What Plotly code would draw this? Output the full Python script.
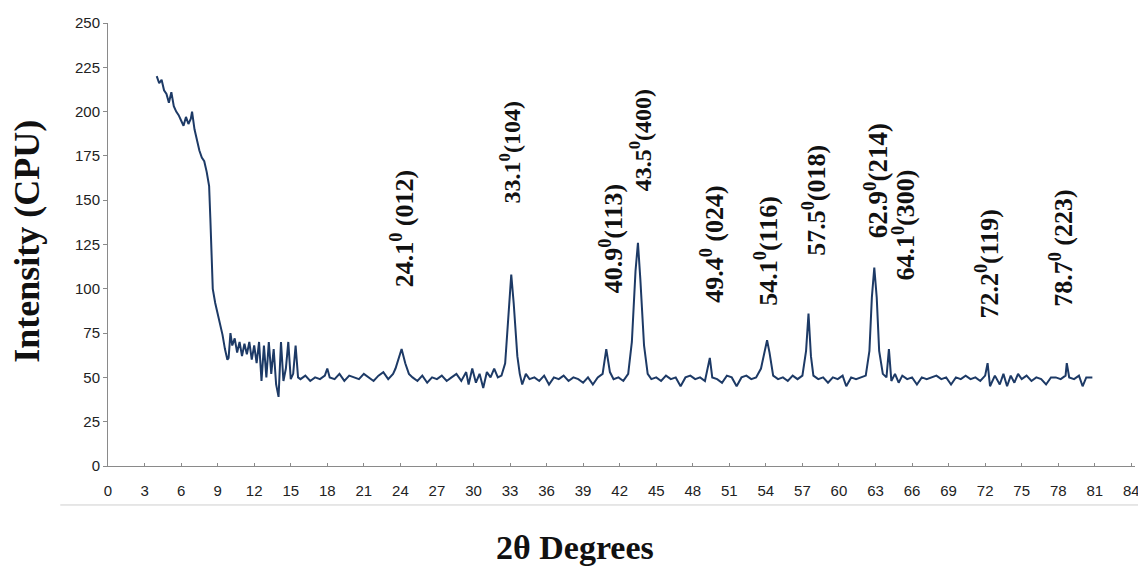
import plotly.graph_objects as go

# ---- data ----
two_theta = [
    4.0, 4.2, 4.4, 4.6, 4.8, 5.0, 5.2, 5.4, 5.6, 5.8, 6.0, 6.2, 6.4, 6.6, 6.8, 6.9,
    7.1, 7.3, 7.5, 7.7, 7.9, 8.1, 8.3, 8.4, 8.5, 8.6, 8.8, 9.0, 9.2, 9.4, 9.6, 9.8, 9.9,
    10.05, 10.2, 10.4, 10.6, 10.8, 11.0, 11.2, 11.4, 11.6, 11.8, 12.0, 12.2, 12.4,
    12.6, 12.8, 13.0, 13.2, 13.4, 13.6, 13.8, 14.0, 14.2, 14.4, 14.6, 14.8, 15.0,
    15.2, 15.4, 15.6,
    15.8, 16.2, 16.6, 17.0, 17.4, 17.8, 18.0, 18.2, 18.6, 19.0, 19.4, 19.8, 20.2,
    20.6, 21.0, 21.4, 21.8, 22.2, 22.6, 23.0, 23.4, 23.6, 23.8, 24.1, 24.4, 24.7,
    25.0, 25.4, 25.8, 26.2, 26.6, 27.0, 27.4, 27.8, 28.2, 28.6, 29.0, 29.4, 29.6,
    29.9, 30.2, 30.5, 30.8, 31.1, 31.4, 31.7, 32.0, 32.3, 32.6, 32.9, 33.1, 33.3,
    33.6, 33.8, 34.0, 34.3, 34.6, 35.0, 35.4, 35.8, 36.2, 36.6, 37.0, 37.4, 37.8,
    38.2, 38.6, 39.0, 39.4, 39.8, 40.2, 40.6, 40.9, 41.2, 41.5, 41.9, 42.3, 42.7,
    43.0, 43.3, 43.5, 43.7, 44.0, 44.3, 44.6, 45.0, 45.4, 45.8, 46.2, 46.6, 47.0,
    47.4, 47.8, 48.2, 48.6, 49.0, 49.4, 49.6, 50.0, 50.4, 50.8, 51.2, 51.6, 52.0,
    52.4, 52.8, 53.2, 53.6, 53.9, 54.1, 54.3, 54.6, 55.0, 55.4, 55.8, 56.2, 56.6,
    57.0, 57.3, 57.5, 57.7, 57.9, 58.3, 58.7, 59.1, 59.5, 59.9, 60.3, 60.6, 61.0,
    61.4, 61.8, 62.2, 62.5, 62.7, 62.9, 63.1, 63.3, 63.6, 63.9, 64.1, 64.3, 64.6,
    64.9, 65.2, 65.6, 66.0, 66.4, 66.8, 67.2, 67.6, 68.0, 68.4, 68.8, 69.2, 69.6,
    70.0, 70.4, 70.8, 71.2, 71.6, 72.0, 72.2, 72.4, 72.8, 73.2, 73.5, 73.8, 74.1,
    74.4, 74.7, 75.0, 75.4, 75.8, 76.2, 76.6, 77.0, 77.4, 77.8, 78.2, 78.6, 78.7,
    78.9, 79.3, 79.7, 80.0, 80.3, 80.8,
]
intensity = [
    220, 216, 218, 212, 210, 205, 211, 203, 200, 198, 195, 192, 197, 193, 196, 200,
    190, 184, 178, 174, 172, 166, 158, 140, 118, 100, 92, 86, 80, 74, 66, 60, 61,
    75, 68, 72, 64, 70, 62, 69, 63, 70, 60, 68, 58, 70,
    48, 68, 50, 70, 52, 66, 46, 39, 70, 48, 55, 70, 49,
    52, 68, 50,
    49, 51, 48, 50, 49, 51, 55, 50, 49, 52, 48, 51, 50,
    49, 52, 50, 48, 51, 53, 49, 52, 55, 60, 66, 58, 52,
    50, 48, 51, 47, 50, 49, 51, 48, 50, 52, 48, 53, 46,
    55, 47, 52, 44, 53, 50, 55, 50, 51, 58, 90, 108, 92,
    62, 52, 46, 52, 49, 50, 48, 51, 46, 50, 49, 51, 48,
    50, 49, 47, 50, 46, 50, 52, 66, 53, 49, 50, 48, 52,
    70, 110, 126, 105, 68, 52, 49, 50, 48, 51, 49, 50, 45,
    50, 51, 49, 50, 48, 61, 50, 49, 47, 51, 50, 45, 50,
    51, 49, 50, 55, 65, 71, 64, 51, 49, 50, 48, 51, 49,
    51, 65, 86, 62, 51, 49, 50, 47, 50, 49, 51, 45, 50,
    49, 50, 51, 65, 95, 112, 95, 65, 52, 50, 66, 48, 52,
    47, 51, 49, 50, 46, 50, 49, 50, 51, 49, 50, 46, 50,
    49, 51, 49, 50, 48, 51, 58, 45, 51, 46, 52, 45, 51,
    47, 52, 49, 51, 48, 50, 49, 46, 50, 50, 49, 51, 58,
    50, 49, 51, 45, 50, 50,
]

peak_labels = [
    "24.1<sup>0</sup> (012)", "33.1<sup>0</sup>(104)", "40.9<sup>0</sup>(113)",
    "43.5<sup>0</sup>(400)", "49.4<sup>0</sup> (024)", "54.1<sup>0</sup>(116)",
    "57.5<sup>0</sup>(018)", "62.9<sup>0</sup>(214)", "64.1<sup>0</sup>(300)",
    "72.2<sup>0</sup>(119)", "78.7<sup>0</sup> (223)",
]
label_x = [24.2, 33.0, 41.3, 43.7, 49.6, 54.1, 58.0, 63.0, 65.3, 72.2, 78.2]
label_y = [134, 177, 128, 184, 125, 121, 150, 161, 136, 114, 123]
label_font_size = [26, 24, 26, 24, 26, 26, 26, 27, 26, 26, 26]

x_ticks = list(range(0, 85, 3))
y_ticks = list(range(0, 251, 25))

serif = "Liberation Serif, Times New Roman, serif"
tickfont = dict(family="Liberation Sans Narrow, Arial Narrow, Arial, sans-serif",
                size=15, color="#222222")

fig = go.Figure()
fig.add_trace(go.Scatter(
    x=two_theta, y=intensity, mode="lines",
    line=dict(color="#1d3a66", width=2),
    showlegend=False, hoverinfo="x+y",
))

for t, xv, yv, fs in zip(peak_labels, label_x, label_y, label_font_size):
    fig.add_annotation(
        x=xv, y=yv, text="<b>" + t + "</b>", showarrow=False, textangle=-90,
        xanchor="center", yanchor="middle",
        font=dict(family=serif, size=fs, color="#111111"),
    )

# axis titles placed as annotations to match the reference positions
fig.add_annotation(
    xref="paper", yref="paper", x=0.4545, y=-0.185,
    text="<b>2θ Degrees</b>", showarrow=False,
    xanchor="center", yanchor="middle",
    font=dict(family=serif, size=34, color="#111111"),
)
fig.add_annotation(
    xref="paper", yref="paper", x=-0.0785, y=0.507,
    text="<b>Intensity (CPU)</b>", showarrow=False, textangle=-90,
    xanchor="center", yanchor="middle",
    font=dict(family=serif, size=36, color="#111111"),
)

fig.add_shape(type="line", xref="paper", yref="paper",
              x0=-0.0465, x1=1.01, y0=-0.088, y1=-0.088,
              line=dict(color="#cfcfcf", width=1))

fig.update_layout(
    width=1138, height=568,
    margin=dict(l=100, r=6, t=14, b=110),
    paper_bgcolor="white", plot_bgcolor="white",
    xaxis=dict(
        range=[0, 84.3], tickmode="array", tickvals=x_ticks,
        ticktext=[str(v) for v in x_ticks],
        showgrid=False, zeroline=False, showline=True,
        linecolor="#8a8a8a", linewidth=1,
        ticks="inside", ticklen=3, tickcolor="#8a8a8a",
        tickfont=tickfont, ticklabelstandoff=11,
    ),
    yaxis=dict(
        range=[0, 250], tickmode="array", tickvals=y_ticks,
        ticktext=[str(v) for v in y_ticks],
        showgrid=False, zeroline=False, showline=True,
        linecolor="#8a8a8a", linewidth=1,
        ticks="outside", ticklen=4, tickcolor="#8a8a8a",
        tickfont=tickfont,
    ),
)

fig.write_html("out.html")
